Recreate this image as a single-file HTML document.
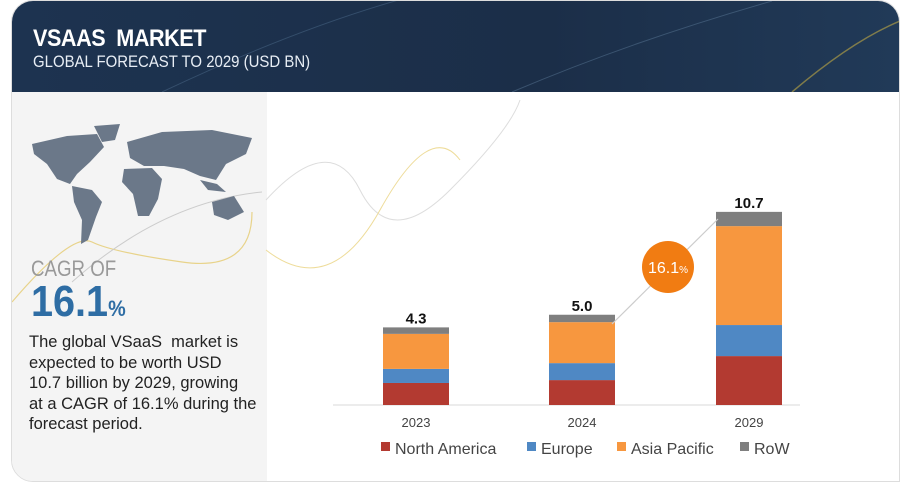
<!DOCTYPE html>
<html><head><meta charset="utf-8"><style>
body{margin:0;width:900px;height:482px;background:#fff;font-family:"Liberation Sans",sans-serif;overflow:hidden;position:relative}
#card{position:absolute;left:11px;top:0;width:887px;height:480px;border:1px solid #ddd;border-radius:22px 22px 0 22px;overflow:hidden;background:#fff}
#header{position:absolute;left:0;top:0;width:888px;height:91px;background:linear-gradient(90deg,#1d3350,#1b2e48 60%,#213a58)}
#left{position:absolute;left:0;top:91px;width:255px;height:389px;background:#f4f4f4}
.t1{position:absolute;left:21px;top:24px;color:#fff;font-size:24px;font-weight:bold;letter-spacing:-0.5px;transform:scaleX(.9);transform-origin:left}
.t2{position:absolute;left:21px;top:51px;color:#e8eef5;font-size:17px;transform:scaleX(.88);transform-origin:left}
.cagr{position:absolute;left:19px;color:#999;font-size:22px;transform:scaleX(.85);transform-origin:left}
.big{position:absolute;left:19px;color:#2e6da4;font-size:44px;font-weight:bold;transform:scaleX(.9);transform-origin:left}
.big span{font-size:22px}
.desc{position:absolute;left:17px;color:#222;font-size:16.5px;line-height:20.5px;white-space:nowrap}
</style></head><body>
<div id="card">
<div id="header">
<svg width="888" height="91" style="position:absolute;left:0;top:0"><path d="M150 91 Q300 20 420 -10" stroke="#5a7a9a" stroke-width="1" fill="none" opacity=".4"/><path d="M500 91 Q620 40 760 0" stroke="#6a8aa8" stroke-width="1" fill="none" opacity=".4"/><path d="M780 91 Q840 40 888 20" stroke="#e0c040" stroke-width="1.5" fill="none" opacity=".5"/></svg>
<div class="t1">VSAAS&nbsp; MARKET</div>
<div class="t2">GLOBAL FORECAST TO 2029 (USD BN)</div>
</div>
<div id="left">
<svg width="255" height="389" style="position:absolute;left:0;top:0"><path d="M0 210 Q60 140 80 150 T170 170 T240 120" stroke="#e8d38a" stroke-width="1.2" fill="none"/><path d="M60 190 Q150 110 250 100" stroke="#ccc" stroke-width="1" fill="none"/></svg>
<svg width="255" height="140" style="position:absolute;left:0;top:30px">
<g fill="#6b7889">
<path d="M20 22 L55 14 L85 12 L92 25 L78 40 L65 52 L58 62 L45 57 L35 42 L22 32Z"/>
<path d="M82 4 L108 2 L103 18 L90 20Z"/>
<path d="M60 64 L80 68 L90 80 L84 95 L76 118 L69 122 L70 98 L62 80Z"/>
<path d="M115 20 L150 10 L200 8 L240 16 L234 32 L214 42 L204 58 L188 54 L172 47 L152 44 L132 44 L118 36Z"/>
<path d="M112 47 L140 46 L150 57 L146 77 L137 94 L126 94 L121 72 L110 60Z"/>
<path d="M200 80 L222 74 L232 90 L216 98 L202 93Z"/>
<path d="M188 58 L205 62 L214 70 L196 68Z"/>
</g></svg>
<div class="cagr" style="top:164px">CAGR OF</div>
<div class="big" style="top:185px">16.1<span>%</span></div>
<div class="desc" style="top:240px">The global VSaaS&nbsp; market is<br>expected to be worth USD<br>10.7 billion by 2029, growing<br>at a CAGR of 16.1% during the<br>forecast period.</div>
</div>
</div>
<svg id="chart" width="900" height="482" style="position:absolute;left:0;top:0">
<path d="M266 200 Q330 130 360 190 T450 190 T520 100" stroke="#ddd" stroke-width="1" fill="none"/>
<path d="M266 250 Q330 300 380 210 T460 160" stroke="#eedc9a" stroke-width="1" fill="none"/>
</svg>
<script>
const categories=["2023","2024","2029"];
const northAmerica=[1.22,1.38,2.71];
const europe=[0.78,0.94,1.72];
const asiaPacific=[1.94,2.27,5.48];
const row=[0.36,0.41,0.79];
const totals=["4.3","5.0","10.7"];
const seriesNames=["North America","Europe","Asia Pacific","RoW"];
const colors=["#b33a31","#4f88c4","#f7973f","#7f7f7f"];
const svg=document.getElementById('chart');
const NS="http://www.w3.org/2000/svg";
const baseY=405,scale=18.05,barW=66;
const xs=[383,549,716];
function yScale(v){return baseY-v*scale;}
function mk(tag,attrs){const e=document.createElementNS(NS,tag);for(const k in attrs)e.setAttribute(k,attrs[k]);svg.appendChild(e);return e;}
const ax=mk('line',{x1:333,x2:800,y1:baseY,y2:baseY,stroke:'#d9d9d9'});


const series=[northAmerica,europe,asiaPacific,row];
categories.forEach((c,i)=>{
  let cum=0;
  series.forEach((s,j)=>{
    const y0=yScale(cum),y1=yScale(cum+s[i]);
    const r=mk('rect',{x:xs[i],y:y1,width:barW,height:y0-y1,fill:colors[j]});
    
    
    cum+=s[i];
  });
  const t=mk('text',{x:xs[i]+barW/2,y:yScale(cum)-4,'text-anchor':'middle','font-size':15,'font-weight':'bold',fill:'#111'});
  t.textContent=totals[i];
  
  
  const l=mk('text',{x:xs[i]+barW/2,y:427,'text-anchor':'middle','font-size':13,fill:'#444'});
  l.textContent=c;
  
  
});
const ar=mk('line',{x1:612,y1:324,x2:718,y2:219,stroke:'#ccc','stroke-width':1.2});


const cc=mk('circle',{cx:668,cy:267,r:26,fill:'#f17c12'});


const ct=mk('text',{x:668,y:273,'text-anchor':'middle','font-size':16,fill:'#fff'});
ct.innerHTML='16.1<tspan font-size="10">%</tspan>';


const legX=[381,527,617,740];
seriesNames.forEach((n,j)=>{
  const r=mk('rect',{x:legX[j],y:442,width:9,height:9,fill:colors[j]});
  
  
  const t=mk('text',{x:legX[j]+14,y:454,'font-size':16,fill:'#444'});
  t.textContent=n;
  
  
});
</script>
</body></html>
